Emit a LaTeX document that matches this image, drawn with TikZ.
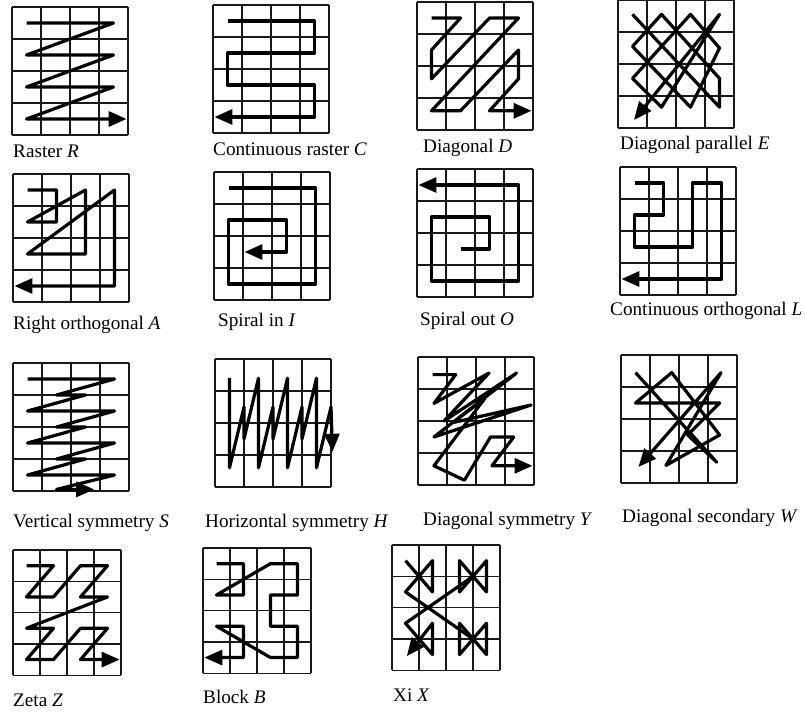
\documentclass[tikz,border=0pt]{standalone}
\usepackage{fontspec}
\setmainfont{Liberation Serif}
\usetikzlibrary{arrows.meta}
% 4x4 cell grid of one scan pattern
\newcommand{\cellgrid}{\foreach \k in {0,...,4}{\draw[grd] (\k,0) -- (\k,4) (0,\k) -- (4,\k);}}

\begin{document}
\begin{tikzpicture}[x=1pt,y=-1pt,
  grd/.style={line width=1.4pt,black!90},
  trk/.style={line width=3.2pt,line join=round},
  cellunit/.style={x=29pt,y=-32pt},
  smallunit/.style={x=27pt,y=-31.3pt},
  lbl/.style={anchor=base west,inner sep=0pt,font=\fontsize{19.2}{22}\selectfont},
  >={Triangle[length=18pt,width=15pt]}]
\useasboundingbox (0,0) rectangle (805,714);

% row 1
\begin{scope}[shift={(12,7)},cellunit]
  \cellgrid
  \draw[trk,->] (0.5,0.5) -- (3.5,0.5) -- (0.5,1.5) -- (3.5,1.5) -- (0.5,2.5) -- (3.5,2.5) -- (0.5,3.5) -- (3.95,3.5);
\end{scope}
\node[lbl] (rasterR) at (13,158) {Raster \textit{R}};

\begin{scope}[shift={(213,5)},cellunit]
  \cellgrid
  \draw[trk,->] (0.5,0.5) -- (3.5,0.5) -- (3.5,1.5) -- (0.5,1.5) -- (0.5,2.5) -- (3.5,2.5) -- (3.5,3.5) -- (0.05,3.5);
\end{scope}
\node[lbl] (rasterC) at (213,156) {Continuous raster \textit{C}};

\begin{scope}[shift={(417,2)},cellunit]
  \cellgrid
  \draw[trk,->] (0.5,0.5) -- (1.5,0.5) -- (0.5,1.5) -- (0.5,2.4) -- (2.5,0.5) -- (3.5,0.5) -- (0.5,3.4) -- (1.5,3.4) -- (3.5,1.5) -- (3.5,2.4) -- (2.5,3.4) -- (3.95,3.4);
\end{scope}
\node[lbl] (diagD) at (423,153) {Diagonal \textit{D}};

\begin{scope}[shift={(618,0)},cellunit]
  \cellgrid
  \draw[trk,->] (0.5,0.45) -- (3.5,3.35) -- (3.5,2.45) -- (1.5,0.45) -- (0.5,1.45) -- (2.5,3.35) -- (3.5,1.5) -- (2.5,0.45) -- (0.5,2.45) -- (1.5,3.35) -- (3.5,0.45) -- (0.55,3.75);
\end{scope}
\node[lbl] (diagE) at (620,150) {Diagonal parallel \textit{E}};

% row 2
\begin{scope}[shift={(13,174)},cellunit]
  \cellgrid
  \draw[trk,->] (0.5,0.5) -- (1.5,0.5) -- (1.5,1.5) -- (0.5,1.5) -- (2.5,0.5) -- (2.5,2.5) -- (0.5,2.5) -- (3.5,0.5) -- (3.5,3.5) -- (0.05,3.5);
\end{scope}
\node[lbl] (orthA) at (13,329) {Right orthogonal \textit{A}};

\begin{scope}[shift={(214,172)},cellunit]
  \cellgrid
  \draw[trk,->] (0.5,0.5) -- (3.5,0.5) -- (3.5,3.5) -- (0.5,3.5) -- (0.5,1.5) -- (2.5,1.5) -- (2.5,2.5) -- (1.05,2.5);
\end{scope}
\node[lbl] (spiralI) at (218,326) {Spiral in \textit{I}};

\begin{scope}[shift={(417,169)},cellunit]
  \cellgrid
  \draw[trk,->] (1.5,2.5) -- (2.5,2.5) -- (2.5,1.5) -- (0.5,1.5) -- (0.5,3.5) -- (3.5,3.5) -- (3.5,0.5) -- (0.05,0.5);
\end{scope}
\node[lbl] (spiralO) at (420,325) {Spiral out \textit{O}};

\begin{scope}[shift={(620,167)},cellunit]
  \cellgrid
  \draw[trk,->] (0.5,0.5) -- (1.5,0.5) -- (1.5,1.5) -- (0.5,1.5) -- (0.5,2.5) -- (2.5,2.5) -- (2.5,0.5) -- (3.5,0.5) -- (3.5,3.5) -- (0.05,3.5);
\end{scope}
\node[lbl] (orthL) at (610,315) {Continuous orthogonal \textit{L}};

% row 3
\begin{scope}[shift={(13,363)},cellunit]
  \cellgrid
  \draw[trk,->] (0.5,0.5) -- (3.5,0.5) -- (1.5,1) -- (2.5,1) -- (0.5,1.5) -- (3.5,1.5) -- (1.5,2) -- (2.5,2) -- (0.5,2.5) -- (3.5,2.5) -- (1.5,3) -- (2.5,3) -- (0.5,3.5) -- (3.5,3.5) -- (1.5,3.95) -- (2.8,3.95);
\end{scope}
\node[lbl] (symS) at (13,527) {Vertical symmetry \textit{S}};

\begin{scope}[shift={(215,359)},cellunit]
  \cellgrid
  \draw[trk,->] (0.5,0.6) -- (0.5,3.4) -- (1,1.5) -- (1,2.5) -- (1.5,0.6) -- (1.5,3.4) -- (2,1.5) -- (2,2.5) -- (2.5,0.6) -- (2.5,3.4) -- (3,1.5) -- (3,2.5) -- (3.5,0.6) -- (3.5,3.4) -- (4,1.5) -- (4.05,2.9);
\end{scope}
\node[lbl] (symH) at (205,527) {Horizontal symmetry \textit{H}};

\begin{scope}[shift={(418,357)},cellunit]
  \cellgrid
  \draw[trk,->] (0.5,0.55) -- (1.3,0.55) -- (0.55,1.45) -- (2.45,0.5) -- (0.9,2) -- (3.4,0.5) -- (0.55,2.5) -- (3.9,1.5) -- (1.2,2.05) -- (2.3,1.3) -- (0.55,3.4) -- (1.6,3.85) -- (2.5,2.5) -- (3.3,2.5) -- (2.55,3.4) -- (3.95,3.4);
\end{scope}
\node[lbl] (symY) at (423,525) {Diagonal symmetry \textit{Y}};

\begin{scope}[shift={(621,355)},cellunit]
  \cellgrid
  \draw[trk,->] (0.5,0.55) -- (3.3,3.35) -- (2.3,2.5) -- (3.4,1.5) -- (0.5,1.5) -- (1.75,0.55) -- (3.4,2.5) -- (1.55,3.45) -- (3.45,0.55) -- (0.6,3.5);
\end{scope}
\node[lbl] (secW) at (622,522) {Diagonal secondary \textit{W}};

% row 4
\begin{scope}[shift={(13,550)},smallunit]
  \cellgrid
  \draw[trk,->] (0.5,0.5) -- (1.5,0.5) -- (0.5,1.5) -- (1.5,1.5) -- (2.5,0.5) -- (3.5,0.5) -- (2.5,1.5) -- (3.5,1.5) -- (0.5,2.5) -- (1.5,2.5) -- (0.5,3.5) -- (1.5,3.5) -- (2.5,2.5) -- (3.5,2.5) -- (2.5,3.5) -- (3.95,3.5);
\end{scope}
\node[lbl] (zetaZ) at (13,706) {Zeta \textit{Z}};

\begin{scope}[shift={(203,548)},smallunit]
  \cellgrid
  \draw[trk,->] (0.5,0.5) -- (1.5,0.5) -- (1.5,1.5) -- (0.5,1.5) -- (2.5,0.5) -- (3.5,0.5) -- (3.5,1.5) -- (2.5,1.5) -- (2.5,2.5) -- (3.5,2.5) -- (3.5,3.5) -- (2.5,3.5) -- (0.5,2.5) -- (1.5,2.5) -- (1.5,3.5) -- (0.05,3.5);
\end{scope}
\node[lbl] (blockB) at (203,703) {Block \textit{B}};

\begin{scope}[shift={(392,545)},smallunit]
  \cellgrid
  \draw[trk] (0.5,0.5) -- (1.5,1.5) -- (1.5,0.5) -- (0.5,1.5) -- (3,3);
  \draw[trk] (2.5,0.5) -- (3.5,1.5) -- (3.5,0.5) -- (2.5,1.5) -- cycle;
  \draw[trk] (2.5,2.5) -- (3.5,3.5) -- (3.5,2.5) -- (2.5,3.5) -- cycle;
  \draw[trk,->] (3,1) -- (0.5,2.5) -- (1.5,3.5) -- (1.5,2.5) -- (0.55,3.55);
\end{scope}
\node[lbl] (xiX) at (393,701) {Xi \textit{X}};
\end{tikzpicture}
\end{document}
